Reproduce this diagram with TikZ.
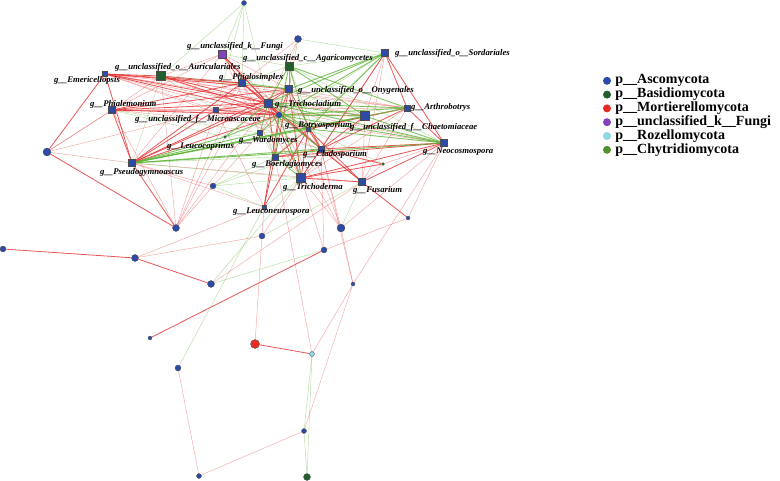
\documentclass[tikz,border=0pt]{standalone}
\usepackage{fontspec}
\setmainfont{Liberation Serif}
\usetikzlibrary{positioning,backgrounds}
\begin{document}
\begin{tikzpicture}[x=1pt, y=-1pt,
    gnode/.style={draw=black!70, line width=0.3pt, inner sep=0pt},
    gsq/.style={gnode, rectangle, minimum size=#1},
    gdot/.style={gnode, circle, minimum size=#1},
    glabel/.style={anchor=west, inner sep=0pt, font=\fontsize{8.7}{9}\selectfont\bfseries\itshape},
    legtext/.style={anchor=west, inner sep=0pt, font=\fontsize{14}{14}\selectfont\bfseries},
    rs/.style={draw=edgered, line width=0.8pt, draw opacity=0.85},
    rw/.style={draw=edgered, line width=0.45pt, draw opacity=0.45},
    gs/.style={draw=edgegreen, line width=0.9pt, draw opacity=0.8},
    gw/.style={draw=edgegreen, line width=0.45pt, draw opacity=0.45}]
    % Define colors
    \definecolor{asccolor}{RGB}{45, 75, 165}
    \definecolor{basidcolor}{RGB}{35, 95, 45}
    \definecolor{mortcolor}{RGB}{230, 45, 35}
    \definecolor{unclcolor}{RGB}{130, 65, 190}
    \definecolor{rozcolor}{RGB}{140, 215, 230}
    \definecolor{chytcolor}{RGB}{85, 145, 50}
    \definecolor{edgered}{RGB}{230, 55, 55}
    \definecolor{edgegreen}{RGB}{95, 180, 55}

    \useasboundingbox (0,0) rectangle (780,481);

    % Genus nodes (squares)
    \node[gsq=8pt, fill=unclcolor] (fungi) at (222,54) {};
    \node[gsq=8pt, fill=basidcolor] (agari) at (289,66) {};
    \node[gsq=7pt, fill=asccolor] (sord) at (385,53) {};
    \node[gsq=9pt, fill=basidcolor] (auric) at (161,76) {};
    \node[gsq=5pt, fill=asccolor] (emeri) at (105,74) {};
    \node[gsq=7pt, fill=asccolor] (philo) at (242,83) {};
    \node[gsq=7pt, fill=asccolor] (phiale) at (112,110) {};
    \node[gsq=5pt, fill=asccolor] (micro) at (216,110) {};
    \node[gsq=7pt, fill=asccolor] (onyg) at (289,89) {};
    \node[gsq=8pt, fill=asccolor] (trichocl) at (268,103) {};
    \node[gsq=6pt, fill=asccolor] (arthro) at (407,108) {};
    \node[gsq=9pt, fill=asccolor] (chaet) at (365,116) {};
    \node[gsq=4pt, fill=asccolor] (botry) at (308,129) {};
    \node[gsq=5pt, fill=asccolor] (wardo) at (260,133) {};
    \node[gdot=3pt, fill=basidcolor] (leuco) at (225,137) {};
    \node[gsq=6pt, fill=asccolor] (clado) at (321,149) {};
    \node[gsq=7pt, fill=asccolor] (neoco) at (444,143) {};
    \node[gsq=6pt, fill=asccolor] (boerl) at (275,157) {};
    \node[gsq=7pt, fill=asccolor] (pseudo) at (132,163) {};
    \node[gsq=9pt, fill=asccolor] (tricho) at (301,178) {};
    \node[gsq=7pt, fill=asccolor] (fusar) at (362,182) {};
    \node[gsq=4pt, fill=asccolor] (leucon) at (264,207) {};

    % Unlabelled nodes (circles)
    \node[gdot=5pt, fill=asccolor] (c1) at (244,3) {};
    \node[gdot=7pt, fill=asccolor] (c2) at (298,39) {};
    \node[gdot=6pt, fill=asccolor] (c3) at (279,115) {};
    \node[gdot=3pt, fill=basidcolor] (g2) at (383,164) {};
    \node[gdot=8pt, fill=asccolor] (c4) at (47,152) {};
    \node[gdot=6pt, fill=asccolor] (c5) at (213,186) {};
    \node[gdot=4pt, fill=asccolor] (c6) at (408,218) {};
    \node[gdot=6pt, fill=asccolor] (c7) at (262,236) {};
    \node[gdot=8pt, fill=asccolor] (c8) at (341,228) {};
    \node[gdot=6pt, fill=asccolor] (c9) at (324,250) {};
    \node[gdot=4pt, fill=asccolor] (c10) at (353,284) {};
    \node[gdot=7pt, fill=asccolor] (c11) at (211,284) {};
    \node[gdot=7pt, fill=asccolor] (c12) at (176,228) {};
    \node[gdot=6pt, fill=asccolor] (c13) at (3,249) {};
    \node[gdot=7pt, fill=asccolor] (c14) at (135,258) {};
    \node[gdot=4pt, fill=asccolor] (c15) at (150,338) {};
    \node[gdot=9pt, fill=mortcolor] (mort) at (255,344) {};
    \node[gdot=5pt, fill=rozcolor] (roz) at (312,354) {};
    \node[gdot=6pt, fill=asccolor] (c16) at (178,368) {};
    \node[gdot=5pt, fill=asccolor] (c17) at (304,431) {};
    \node[gdot=5pt, fill=asccolor] (c18) at (199,476) {};
    \node[gdot=7pt, fill=basidcolor] (basid) at (307,477) {};

    % Edges, behind the nodes
    \begin{scope}[on background layer]
    \foreach \a/\b in {emeri/auric, emeri/philo, emeri/trichocl, emeri/onyg, emeri/c3, emeri/pseudo, emeri/c4,
        auric/philo, auric/trichocl, auric/c3, fungi/philo, fungi/trichocl, fungi/c3,
        phiale/philo, phiale/trichocl, phiale/c3, phiale/onyg, phiale/pseudo,
        pseudo/trichocl, pseudo/c3, pseudo/onyg, pseudo/philo, pseudo/micro, pseudo/c12,
        philo/trichocl, philo/c3, micro/trichocl, micro/c3,
        sord/arthro, sord/neoco, sord/clado, onyg/trichocl, onyg/c3, onyg/clado, onyg/tricho, onyg/boerl,
        trichocl/c3, trichocl/clado, trichocl/boerl, trichocl/tricho, c3/leucon,
        arthro/neoco, arthro/botry, arthro/clado, chaet/botry, chaet/clado,
        botry/clado, botry/tricho, botry/boerl, botry/fusar, botry/leucon,
        neoco/clado, neoco/fusar, neoco/tricho, neoco/boerl,
        clado/tricho, clado/fusar, clado/boerl, clado/g2, boerl/leucon,
        tricho/fusar, tricho/g2, fusar/c6,
        c13/c14, c14/c11, c4/c12, c15/c9, mort/roz}
        \draw[rs] (\a) -- (\b);
    \foreach \a/\b in {emeri/chaet, emeri/arthro, emeri/micro, emeri/botry, emeri/neoco, emeri/clado,
        auric/chaet, auric/arthro, auric/phiale, auric/fungi, auric/botry, auric/c12,
        fungi/onyg, fungi/pseudo, fungi/phiale, fungi/clado, fungi/wardo,
        phiale/micro, phiale/chaet, phiale/arthro, phiale/botry, phiale/c12, phiale/c4,
        pseudo/c5, pseudo/fusar, pseudo/c4, pseudo/leucon,
        philo/tricho, philo/boerl, philo/clado, philo/c12, philo/micro,
        micro/onyg, micro/chaet, micro/neoco, micro/c12, micro/leucon,
        sord/chaet, sord/fusar, sord/tricho, onyg/arthro, onyg/wardo, trichocl/fusar, c3/fusar,
        arthro/chaet, arthro/fusar, arthro/tricho, chaet/fusar, chaet/tricho,
        neoco/c6, neoco/c10, neoco/g2, neoco/c8, tricho/c8, fusar/g2,
        c2/trichocl, c2/philo, c2/onyg,
        c14/leucon, c14/c7, c4/phiale, c4/micro, c12/wardo, c12/trichocl, c12/leuco,
        c9/c6, c9/tricho, c9/clado, c10/c8, c10/clado, c10/roz, c10/c17,
        roz/boerl, mort/c7, c17/c18, c18/c16, c7/leucon, c7/tricho, c11/fusar,
        c8/clado, c8/onyg, c8/trichocl}
        \draw[rw] (\a) -- (\b);
    \foreach \a/\b in {pseudo/chaet, pseudo/arthro, pseudo/neoco, pseudo/botry, pseudo/clado, pseudo/wardo, pseudo/leuco,
        agari/arthro, agari/chaet, agari/c3, agari/botry, agari/trichocl, agari/onyg,
        sord/trichocl, sord/c3, sord/onyg, sord/botry, philo/onyg,
        trichocl/chaet, trichocl/arthro, trichocl/neoco, trichocl/botry, trichocl/leuco, trichocl/wardo,
        c3/chaet, c3/arthro, c3/neoco, c3/botry, c3/clado, c3/boerl, c3/tricho, c3/leuco, c3/wardo,
        chaet/neoco, botry/neoco, boerl/tricho}
        \draw[gs] (\a) -- (\b);
    \foreach \a/\b in {auric/onyg, auric/micro, auric/pseudo, fungi/c1, fungi/agari,
        phiale/leuco, phiale/wardo, pseudo/boerl, pseudo/tricho, philo/agari,
        agari/sord, agari/neoco, agari/clado, agari/tricho, sord/wardo, sord/boerl,
        onyg/chaet, c3/g2, botry/wardo, wardo/leuco, wardo/clado, wardo/boerl, wardo/tricho,
        tricho/leucon, fusar/c8, leucon/c5, boerl/c5, c5/tricho, c5/clado,
        c1/auric, c1/philo, c1/trichocl, c1/micro, c2/sord, c2/agari,
        c16/leucon, c11/tricho, c9/c11, c7/fusar, roz/c17, roz/basid, c17/basid}
        \draw[gw] (\a) -- (\b);
    \end{scope}

    % Genus labels
    \node[glabel] (lfungi) at (187,46) {g\_\_unclassified\_k\_\_Fungi};
    \node[glabel] (lagari) at (243,58) {g\_\_unclassified\_c\_\_Agaricomycetes};
    \node[glabel] (lsord) at (395,53) {g\_\_unclassified\_o\_\_Sordariales};
    \node[glabel] (lauric) at (115,67) {g\_\_unclassified\_o\_\_Auriculariales};
    \node[glabel] (lemeri) at (54,80) {g\_\_Emericellopsis};
    \node[glabel] (lphilo) at (219,77) {g\_\_Phialosimplex};
    \node[glabel] (lphiale) at (90,104) {g\_\_Phialemonium};
    \node[glabel] (lmicro) at (135,119) {g\_\_unclassified\_f\_\_Microascaceae};
    \node[glabel] (lonyg) at (298,90) {g\_\_unclassified\_o\_\_Onygenales};
    \node[glabel] (ltrichocl) at (275,104) {g\_\_Trichocladium};
    \node[glabel] (larthro) at (411,107) {g\_\_Arthrobotrys};
    \node[glabel] (lchaet) at (350,127) {g\_\_unclassified\_f\_\_Chaetomiaceae};
    \node[glabel] (lbotry) at (285,125) {g\_\_Botryosporium};
    \node[glabel] (lwardo) at (239,140) {g\_\_Wardomyces};
    \node[glabel] (lleuco) at (167,146) {g\_\_Leucocoprinus};
    \node[glabel] (lclado) at (303,154) {g\_\_Cladosporium};
    \node[glabel] (lneoco) at (423,152) {g\_\_Neocosmospora};
    \node[glabel] (lboerl) at (252,164) {g\_\_Boerlagiomyces};
    \node[glabel] (lpseudo) at (100,172) {g\_\_Pseudogymnoascus};
    \node[glabel] (ltricho) at (283,187) {g\_\_Trichoderma};
    \node[glabel] (lfusar) at (353,190) {g\_\_Fusarium};
    \node[glabel] (lleucon) at (233,212) {g\_\_Leuconeurospora};

    % Legend
    \foreach \i/\col/\name in {1/asccolor/Ascomycota, 2/basidcolor/Basidiomycota, 3/mortcolor/Mortierellomycota,
        4/unclcolor/unclassified\_k\_\_Fungi, 5/rozcolor/Rozellomycota, 6/chytcolor/Chytridiomycota} {
        \node[circle, fill=\col, minimum size=8pt, inner sep=0pt] (lg\i) at (607, 67+13.8*\i) {};
        \node[legtext, right=4pt of lg\i] (lt\i) {p\_\_\name};
    }
\end{tikzpicture}
\end{document}
